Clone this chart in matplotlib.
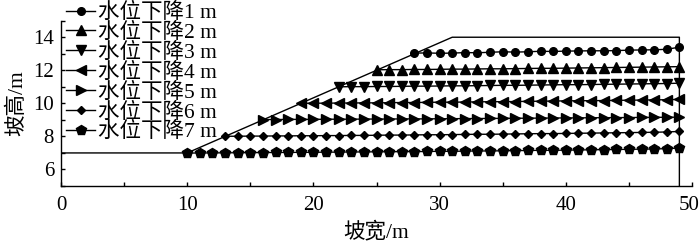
import matplotlib
matplotlib.use("Agg")
import matplotlib.pyplot as plt
import matplotlib.transforms as mtransforms
from matplotlib.ticker import MultipleLocator

plt.rcParams['font.family'] = ['Liberation Serif', 'Noto Sans CJK SC', 'DejaVu Sans']

# slope outline
outline_x = [0, 10, 31, 49, 49]
outline_y = [7, 7, 14, 14, 5]

labels = ["水位下降1 m", "水位下降2 m", "水位下降3 m", "水位下降4 m",
          "水位下降5 m", "水位下降6 m", "水位下降7 m"]
start_x = [28, 25, 22, 19, 16, 13, 10]
end_x = 49

y1 = [13.04, 13.05, 13.03, 13.04, 13.07, 13.06, 13.09, 13.12, 13.10, 13.12, 13.15,
      13.14, 13.16, 13.17, 13.18, 13.18, 13.19, 13.22, 13.23, 13.24, 13.27, 13.40]
y2 = [12.03, 12.04, 12.04, 12.05, 12.05, 12.06, 12.07, 12.07, 12.08, 12.09, 12.09,
      12.10, 12.11, 12.12, 12.12, 12.13, 12.14, 12.15, 12.16, 12.17, 12.18, 12.19,
      12.20, 12.21, 12.22]
y3 = [11.00, 11.01, 11.01, 11.02, 11.02, 11.03, 11.04, 11.04, 11.05, 11.06, 11.06,
      11.07, 11.08, 11.09, 11.09, 11.10, 11.11, 11.12, 11.13, 11.13, 11.14, 11.15,
      11.16, 11.17, 11.18, 11.19, 11.20, 11.22]
y4 = [10.00, 10.01, 10.01, 10.02, 10.02, 10.03, 10.03, 10.04, 10.05, 10.05, 10.06,
      10.07, 10.07, 10.08, 10.09, 10.10, 10.10, 10.11, 10.12, 10.13, 10.14, 10.15,
      10.16, 10.16, 10.17, 10.18, 10.19, 10.20, 10.21, 10.22, 10.24]
y5 = [9.02, 9.02, 9.03, 9.03, 9.03, 9.04, 9.04, 9.04, 9.05, 9.05, 9.05, 9.06, 9.06,
      9.06, 9.07, 9.07, 9.08, 9.08, 9.09, 9.09, 9.10, 9.10, 9.11, 9.11, 9.12, 9.12,
      9.13, 9.13, 9.14, 9.14, 9.15, 9.15, 9.16, 9.16]
y6 = [8.01, 8.01, 8.02, 8.02, 8.03, 8.03, 8.04, 8.04, 8.05, 8.05, 8.06, 8.06, 8.07,
      8.08, 8.08, 8.09, 8.10, 8.10, 8.11, 8.12, 8.13, 8.13, 8.14, 8.15, 8.16, 8.17,
      8.17, 8.18, 8.19, 8.20, 8.21, 8.22, 8.23, 8.24, 8.25, 8.27, 8.30]
y7 = [6.99, 7.00, 7.00, 7.01, 7.01, 7.02, 7.02, 7.03, 7.03, 7.04, 7.04, 7.05, 7.05,
      7.06, 7.06, 7.07, 7.07, 7.08, 7.08, 7.09, 7.10, 7.10, 7.11, 7.12, 7.12, 7.13,
      7.14, 7.15, 7.16, 7.16, 7.17, 7.18, 7.19, 7.20, 7.21, 7.22, 7.23, 7.24, 7.26,
      7.30]
series_y = [y1, y2, y3, y4, y5, y6, y7]
markers = ['o', '^', 'v', '<', '>', 'D', 'p']
msizes = [5.5, 7, 7, 7, 7, 4.5, 7]

x_ticks = [0, 10, 20, 30, 40, 50]
y_ticks = [6, 8, 10, 12, 14]

fig = plt.figure(figsize=(7.0, 2.45), dpi=100)
ax = fig.add_axes([61/700, 59/245, 631/700, 165.3/245])

ax.plot(outline_x, outline_y, color='black', lw=1.0)
handles = []
for sx, ys, m, ms, lab in zip(start_x, series_y, markers, msizes, labels):
    xs = list(range(sx, end_x + 1))
    h, = ax.plot(xs, ys, color='black', lw=1.0, marker=m, markersize=ms,
                 markerfacecolor='black', markeredgecolor='black', label=lab)
    handles.append(h)

ax.set_xlim(0, 50)
ax.set_ylim(5, 15)
ax.set_xticks(x_ticks)
ax.set_yticks(y_ticks)
ax.xaxis.set_minor_locator(MultipleLocator(5))
ax.yaxis.set_minor_locator(MultipleLocator(1))
ax.tick_params(which='both', direction='in', length=3, width=1, labelsize=15)
ax.tick_params(axis='x', pad=7)
ax.tick_params(axis='y', pad=5)
ax.spines['top'].set_visible(False)
ax.spines['right'].set_visible(False)
for s in ['left', 'bottom']:
    ax.spines[s].set_linewidth(1.0)

ax.set_xlabel("坡宽/m", fontsize=15.5, labelpad=5)
ax.set_ylabel("坡高/m", fontsize=15.5, labelpad=4)

# nudge the last x tick label so it stays inside the figure
fig.canvas.draw()
last_lab = ax.get_xticklabels()[-1]
last_lab.set_transform(last_lab.get_transform() +
                       mtransforms.ScaledTranslation(-3/100, 0, fig.dpi_scale_trans))

leg = fig.legend(handles=handles, loc='upper left', bbox_to_anchor=(66/700, 1 - 3/245),
                 frameon=False, fontsize=15.5, handlelength=1.35, handletextpad=0.15,
                 labelspacing=-0.01, borderaxespad=0, borderpad=0)

fig.savefig("out.png", dpi=100)
